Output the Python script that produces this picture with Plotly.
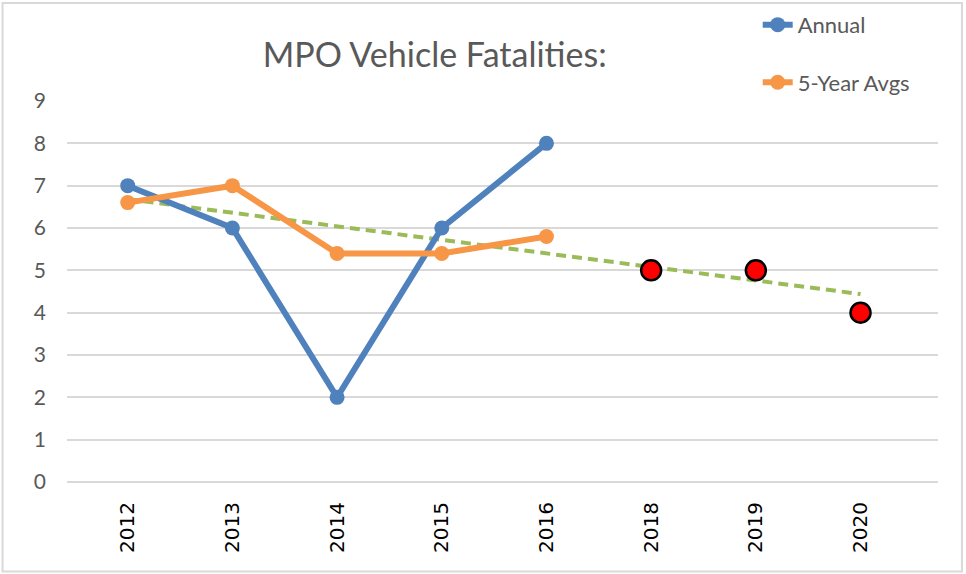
import plotly.graph_objects as go

# ---- data ----
years = ["2012", "2013", "2014", "2015", "2016", "2018", "2019", "2020"]
hist_years = ["2012", "2013", "2014", "2015", "2016"]
annual = [7, 6, 2, 6, 8]
five_year_avgs = [6.6, 7, 5.4, 5.4, 5.8]
target_years = ["2018", "2019", "2020"]
targets = [5, 5, 4]
trend_years = ["2012", "2020"]
trend_vals = [6.68, 4.44]
y_ticks = [0, 1, 2, 3, 4, 5, 6, 7, 8, 9]

BLUE = "#4F81BD"
ORANGE = "#F79646"
GREEN = "#9BBB59"
GRAY = "#595959"

fig = go.Figure()

fig.add_trace(go.Scatter(
    x=trend_years, y=trend_vals, mode="lines",
    line=dict(color=GREEN, width=4, dash="10px,6px"),
    showlegend=False, hoverinfo="skip"))

fig.add_trace(go.Scatter(
    x=hist_years, y=annual, mode="lines+markers", name="Annual",
    line=dict(color=BLUE, width=6), marker=dict(size=15, color=BLUE),
    legendgroup="a"))

fig.add_trace(go.Scatter(
    x=hist_years, y=five_year_avgs, mode="lines+markers", name="5-Year Avgs",
    line=dict(color=ORANGE, width=6), marker=dict(size=15, color=ORANGE),
    legendgroup="b"))

fig.add_trace(go.Scatter(
    x=target_years, y=targets, mode="markers",
    marker=dict(size=20, color="#FF0000", line=dict(color="black", width=2.5)),
    showlegend=False))

fig.update_layout(
    width=966, height=574,
    margin=dict(l=67, r=28, t=101, b=92, autoexpand=False),
    paper_bgcolor="white", plot_bgcolor="white",
    title=dict(text="MPO Vehicle Fatalities:", x=0.45, xanchor="center",
               y=0.904, yanchor="middle",
               font=dict(family="Lato", size=34, color=GRAY)),
    legend=dict(x=0.793, xanchor="left", y=1.255, yanchor="top",
                traceorder="grouped", tracegroupgap=26,
                font=dict(family="Lato", size=22, color=GRAY),
                bgcolor="rgba(0,0,0,0)"),
    font=dict(family="Lato"),
    shapes=[dict(type="rect", xref="paper", yref="paper",
                 x0=-0.074, x1=1.0275, y0=-0.235, y1=1.257,
                 line=dict(color="#D9D9D9", width=2), fillcolor="rgba(0,0,0,0)",
                 layer="below")],
)

fig.update_xaxes(
    type="category", categoryorder="array", categoryarray=years,
    range=[-0.58, 7.74], showgrid=False, zeroline=False,
    showline=False, ticks="", tickangle=-90,
    tickfont=dict(family="DejaVu Sans", size=20, color="black"),
    ticklabelstandoff=15)

fig.update_yaxes(
    range=[0, 9], tickvals=y_ticks, showgrid=True, gridcolor="#D9D9D9",
    gridwidth=2, zeroline=True, zerolinecolor="#D9D9D9", zerolinewidth=2,
    showline=False, ticks="",
    tickfont=dict(family="Lato", size=21, color=GRAY),
    ticklabelstandoff=20)

fig.write_html("out.html", config={"displayModeBar": False},
               post_script="document.body.style.margin='0';")
